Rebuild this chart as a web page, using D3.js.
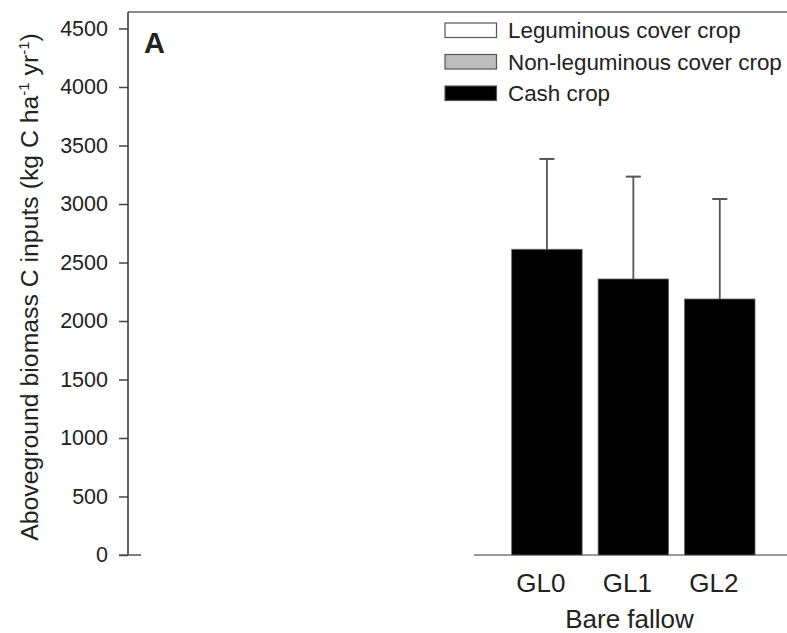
<!DOCTYPE html>
<html>
<head>
<meta charset="utf-8">
<script src="https://cdn.jsdelivr.net/npm/d3@7"></script>
<style>
  body { margin: 0; background: #fff; }
  text { font-family: "Liberation Sans", Arial, sans-serif; fill: #222; }
</style>
</head>
<body>
<div id="chart"></div>
<script>
// data
var categories = ["GL0", "GL1", "GL2"];
var cashCrop = [2613, 2359, 2188];
var cashCropSD = [772, 875, 855];
var yTicks = [0, 500, 1000, 1500, 2000, 2500, 3000, 3500, 4000, 4500];
var legendLabels = ["Leguminous cover crop", "Non-leguminous cover crop", "Cash crop"];
var legendFills = ["#ffffff", "#bdbdbd", "#000000"];

var width = 787, height = 633;

var svg = d3.select("#chart").append("svg")
    .attr("width", width)
    .attr("height", height);

// scales
var y = d3.scaleLinear().domain([0, 4500]).range([555, 28.5]);
var x = d3.scaleBand().domain(categories).range([503.7, 763]).paddingInner(0.185).paddingOuter(0.0925);

// top frame line
svg.append("line")
    .attr("x1", 128).attr("x2", width)
    .attr("y1", 12).attr("y2", 12)
    .attr("stroke", "#8a8a8a").attr("stroke-width", 2);

// left y axis
var yAxis = d3.axisLeft(y).tickValues(yTicks).tickFormat(d3.format("d"))
    .tickSize(9).tickPadding(11).tickSizeOuter(0);
var gy = svg.append("g")
    .attr("transform", "translate(128,0)")
    .call(yAxis);
gy.select(".domain").remove();
gy.append("line")
    .attr("x1", 0).attr("x2", 0)
    .attr("y1", 12).attr("y2", y(0))
    .attr("stroke", "#333").attr("stroke-width", 1.5);
gy.selectAll(".tick line").attr("stroke", "#444").attr("stroke-width", 1.5);
gy.selectAll(".tick text")
    .style("font-size", "21.5px")
    .attr("fill", "#222");
// short baseline stub at zero
gy.append("line")
    .attr("x1", -9).attr("x2", 13)
    .attr("y1", y(0)).attr("y2", y(0))
    .attr("stroke", "#555").attr("stroke-width", 1.5);

// y axis title
var ytitle = svg.append("text")
    .attr("transform", "translate(38," + 287 + ") rotate(-90)")
    .attr("text-anchor", "middle")
    .style("font-size", "24.8px");
ytitle.append("tspan").text("Aboveground biomass C inputs (kg C ha");
ytitle.append("tspan").attr("dy", -9).style("font-size", "15px").text("-1");
ytitle.append("tspan").attr("dy", 9).text(" yr");
ytitle.append("tspan").attr("dy", -9).style("font-size", "15px").text("-1");
ytitle.append("tspan").attr("dy", 9).text(")");

// panel letter
svg.append("text")
    .attr("x", 144).attr("y", 53)
    .style("font-size", "29px")
    .style("font-weight", "bold")
    .attr("fill", "#111")
    .text("A");

// bottom x axis line segment
svg.append("line")
    .attr("x1", 474).attr("x2", width)
    .attr("y1", y(0)).attr("y2", y(0))
    .attr("stroke", "#777").attr("stroke-width", 1.5);

// bars
var bars = categories.map(function(c, i) {
    return {cat: c, value: cashCrop[i], sd: cashCropSD[i]};
});

// error bars (upper only, drawn behind bars)
var err = svg.append("g").selectAll("g")
    .data(bars)
    .enter().append("g");
err.append("line")
    .attr("x1", function(d) { return x(d.cat) + x.bandwidth() / 2; })
    .attr("x2", function(d) { return x(d.cat) + x.bandwidth() / 2; })
    .attr("y1", function(d) { return y(d.value); })
    .attr("y2", function(d) { return y(d.value + d.sd); })
    .attr("stroke", "#555").attr("stroke-width", 1.8);
err.append("line")
    .attr("x1", function(d) { return x(d.cat) + x.bandwidth() / 2 - 7.5; })
    .attr("x2", function(d) { return x(d.cat) + x.bandwidth() / 2 + 7.5; })
    .attr("y1", function(d) { return y(d.value + d.sd); })
    .attr("y2", function(d) { return y(d.value + d.sd); })
    .attr("stroke", "#555").attr("stroke-width", 2);

svg.append("g").selectAll("rect")
    .data(bars)
    .enter().append("rect")
    .attr("x", function(d) { return x(d.cat); })
    .attr("width", x.bandwidth())
    .attr("y", function(d) { return y(d.value); })
    .attr("height", function(d) { return y(0) - y(d.value); })
    .attr("fill", "#000")
    .attr("stroke", "#666")
    .attr("stroke-width", 0.8);

// category labels
svg.append("g").selectAll("text")
    .data(categories)
    .enter().append("text")
    .attr("x", function(d) { return x(d) + x.bandwidth() / 2 - 6; })
    .attr("y", 592)
    .attr("text-anchor", "middle")
    .style("font-size", "26px")
    .text(function(d) { return d; });

svg.append("text")
    .attr("x", 629.5).attr("y", 628)
    .attr("text-anchor", "middle")
    .style("font-size", "26px")
    .text("Bare fallow");

// legend
var legend = svg.append("g").selectAll("g")
    .data(legendLabels)
    .enter().append("g")
    .attr("transform", function(d, i) { return "translate(445," + (23 + i * 31.5) + ")"; });
legend.append("rect")
    .attr("width", 51.5).attr("height", 14.5)
    .attr("fill", function(d, i) { return legendFills[i]; })
    .attr("stroke", "#555").attr("stroke-width", 1.2);
legend.append("text")
    .attr("x", 63).attr("y", 15)
    .style("font-size", "22.4px")
    .text(function(d) { return d; });
</script>
</body>
</html>
